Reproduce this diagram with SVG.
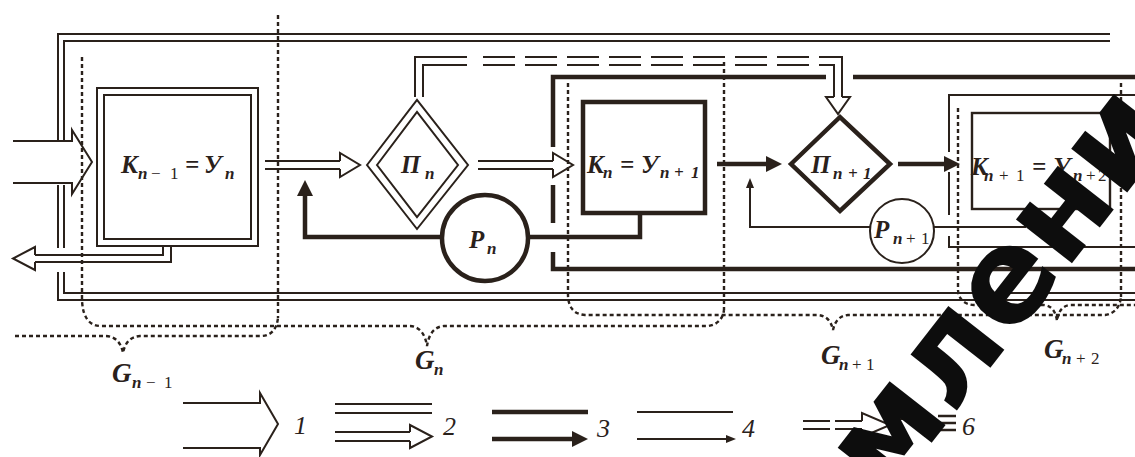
<svg xmlns="http://www.w3.org/2000/svg" width="1135" height="457" viewBox="0 0 1135 457">
<style>
.l{fill:none;stroke:#2a211b;stroke-width:2}
.tk{fill:none;stroke:#2a211b;stroke-width:4.5}
.tn{fill:none;stroke:#2a211b;stroke-width:2}
.dt{fill:none;stroke:#2a211b;stroke-width:2.4;stroke-dasharray:4 3}
.da{fill:none;stroke:#2a211b;stroke-width:2;stroke-dasharray:32 10}
.t{font-family:"Liberation Serif",serif;font-style:italic;font-weight:bold;font-size:25px;fill:#2a211b}
.sb{font-size:17px}
.nm{font-size:17px;font-style:normal;font-weight:normal}
.g{font-family:"Liberation Serif",serif;font-style:italic;font-weight:bold;font-size:27px;fill:#2a211b}
.lg{font-family:"Liberation Serif",serif;font-style:italic;font-size:26px;fill:#2a211b}
.wm{font-family:"DejaVu Sans",sans-serif;font-weight:bold;font-size:130px;fill:#0d0d0d}
</style>
<defs>
<marker id="ak" viewBox="0 0 16 16" refX="6" refY="8" markerWidth="16" markerHeight="16" markerUnits="userSpaceOnUse" orient="auto"><path d="M0,0 L16,8 L0,16 Z" fill="#2a211b"/></marker>
<marker id="an" viewBox="0 0 10 8" refX="4" refY="4" markerWidth="10" markerHeight="8" markerUnits="userSpaceOnUse" orient="auto"><path d="M0,0 L10,4 L0,8 Z" fill="#2a211b"/></marker>
</defs>

<g id="frame">
<path class="l" d="M1110,34 H58 V140 M58,185 V248 M58,272 V300 H1135"/>
<path class="l" d="M1110,41 H64 V140 M64,185 V248 M64,272 V293 H1135"/>
<path class="tk" d="M826,77 H553 V147 M553,185 V223 M553,252 V269 H1135 M853,77 H1135"/>
<path class="tn" d="M1135,95 H949 V152 M949,172 V215 M949,236 V247 H1135"/>
</g>

<g id="regions">
<path class="dt" d="M278,15 V318"/>
<path class="dt" d="M15,336 H106 Q120,337 123,353 Q126,337 140,336 H262 Q276,335 278,318"/>
<path class="dt" d="M82,57 V300 Q83,325 100,326 H410 Q424,327 427,346 Q430,327 444,326 H708 Q722,324 724,310"/>
<path class="dt" d="M724,62 V310"/>
<path class="dt" d="M568,83 V296 Q569,314 585,315 H818 Q830,316 833,330 Q836,316 848,315 H1105 Q1119,313 1121,297"/>
<path class="dt" d="M1121,83 V297"/>
<path class="dt" d="M958,108 V290 Q959,304 974,305 H1044 Q1055,306 1057,321 Q1059,306 1070,305 H1135"/>
</g>

<g id="connectors">
<path class="l" d="M13,141 H72 V130 L92,162 L72,194 V183 H13"/>
<path class="l" d="M171,246 V262 H35 M163,246 V255 H35 M35,255 V247 L13,258.5 L35,270 V262"/>
<path class="l" d="M265,161 H340 M265,169 H340 M340,161 V153 L360,165 L340,177 V169"/>
<path class="l" d="M478,161 H553 M478,169 H553 M553,161 V153 L573,165 L553,177 V169"/>
<path class="l" d="M415,97 V57 H467 M423,97 V65 H467 M820,57 H842 V97 M820,65 H834 V97 M834,97 H826 L838,114 L850,97 H842"/>
<path class="da" d="M483,57 H820 M483,65 H820"/>
<path class="tk" d="M442,237 H305 V190" marker-end="url(#ak)"/>
<path class="tk" d="M528,237 H640 V213"/>
<path class="tk" d="M717,164 H772" marker-end="url(#ak)"/>
<path class="tk" d="M898,164 H950" marker-end="url(#ak)"/>
<path class="tk" d="M1113,165 H1124" marker-end="url(#ak)"/>
<path class="tn" d="M870,227 H750 V184" marker-end="url(#an)"/>
<path class="tn" d="M934,227 H1025 V209"/>
</g>

<g id="node-Kn-1">
<rect class="l" x="97" y="88" width="161" height="158"/>
<rect class="l" x="104" y="95" width="147" height="144"/>
<text class="t" y="173"><tspan x="121">К</tspan><tspan class="sb" x="138" y="179">n</tspan><tspan class="nm" x="151" y="179">−</tspan><tspan class="nm" x="170" y="179">1</tspan><tspan x="185" y="173">=</tspan><tspan x="204" y="173">У</tspan><tspan class="sb" x="225" y="179">n</tspan></text>
</g>

<g id="node-Pin">
<path class="l" d="M367,165 L417,100 L468,165 L417,229 Z"/>
<path class="l" d="M377,165 L417,112 L458,165 L417,217 Z"/>
<text class="t" y="173"><tspan x="401">П</tspan><tspan class="sb" x="425" y="179">n</tspan></text>
</g>

<g id="node-Pn">
<circle class="tk" cx="485" cy="238" r="43" fill="#fff"/>
<text class="t" y="248"><tspan x="469">Р</tspan><tspan class="sb" x="487" y="254">n</tspan></text>
</g>

<g id="node-Kn">
<rect class="tk" x="583" y="102" width="122" height="111"/>
<text class="t" y="173"><tspan x="587">К</tspan><tspan class="sb" x="603" y="178">n</tspan><tspan x="620" y="173">=</tspan><tspan x="641" y="173">У</tspan><tspan class="sb" x="660" y="178">n</tspan><tspan class="sb" x="674" y="178">+</tspan><tspan class="sb" x="691" y="178">1</tspan></text>
</g>

<g id="node-Pin1">
<path class="tk" d="M791,164 L840,117 L890,164 L840,211 Z"/>
<text class="t" y="173"><tspan x="811">П</tspan><tspan class="sb" x="833" y="179">n</tspan><tspan class="sb" x="848" y="179">+</tspan><tspan class="sb" x="863" y="179">1</tspan></text>
</g>

<g id="node-Pn1">
<circle class="tn" cx="902" cy="231" r="32" fill="#fff"/>
<text class="t" y="238"><tspan x="874">Р</tspan><tspan class="sb" x="893" y="244">n</tspan><tspan class="nm" x="906" y="244">+</tspan><tspan class="nm" x="921" y="244">1</tspan></text>
</g>

<g id="node-Kn1">
<rect class="l" x="972" y="113" width="138" height="96" style="stroke-width:2.4"/>
<text class="t" y="175"><tspan x="971">К</tspan><tspan class="sb" x="984" y="181">n</tspan><tspan class="nm" x="999" y="181">+</tspan><tspan class="nm" x="1016" y="181">1</tspan><tspan x="1032" y="175">=</tspan><tspan x="1053" y="175">У</tspan><tspan class="sb" x="1073" y="181">n</tspan><tspan class="nm" x="1086" y="181">+</tspan><tspan class="nm" x="1098" y="181">2</tspan></text>
</g>

<g id="labels">
<text class="g" y="382"><tspan x="112">G</tspan><tspan class="sb" x="132" y="388">n</tspan><tspan class="nm" x="146" y="388">−</tspan><tspan class="nm" x="164" y="388">1</tspan></text>
<text class="g" y="369"><tspan x="415">G</tspan><tspan class="sb" x="434" y="375">n</tspan></text>
<text class="g" y="364"><tspan x="821">G</tspan><tspan class="sb" x="839" y="370">n</tspan><tspan class="nm" x="852" y="370">+</tspan><tspan class="nm" x="866" y="370">1</tspan></text>
<text class="g" y="358"><tspan x="1044">G</tspan><tspan class="sb" x="1062" y="364">n</tspan><tspan class="nm" x="1076" y="364">+</tspan><tspan class="nm" x="1091" y="364">2</tspan></text>
</g>

<g id="legend">
<path class="l" d="M183,403 H260 V393 L278,424 L260,455 V448 H183"/>
<text class="lg" x="294" y="434">1</text>
<path class="l" d="M335,404 H432 M335,413 H432 M335,432 H410 M335,441 H410 M410,432 V425 L432,436.5 L410,448 V441"/>
<text class="lg" x="443" y="435">2</text>
<path class="tk" d="M492,412 H588"/>
<path class="tk" d="M492,439 H578" marker-end="url(#ak)"/>
<text class="lg" x="597" y="437">3</text>
<path class="tn" d="M637,412 H733"/>
<path class="tn" d="M637,439 H730" marker-end="url(#an)"/>
<text class="lg" x="742" y="437">4</text>
<path class="l" d="M803,421 H830 M803,429 H830 M835,421 H862 M835,429 H862 M862,421 V413 L890,425 L862,437 V429"/>
<text class="lg" x="893" y="435">5</text>
<path class="l" d="M938,416 H956 M938,423 H956 M938,430 H956" style="stroke-width:2.4"/>
<text class="lg" x="962" y="435">6</text>
</g>

<g id="watermark">
<text class="wm" transform="translate(887,500) rotate(-52)">мление</text>
</g>
</svg>
